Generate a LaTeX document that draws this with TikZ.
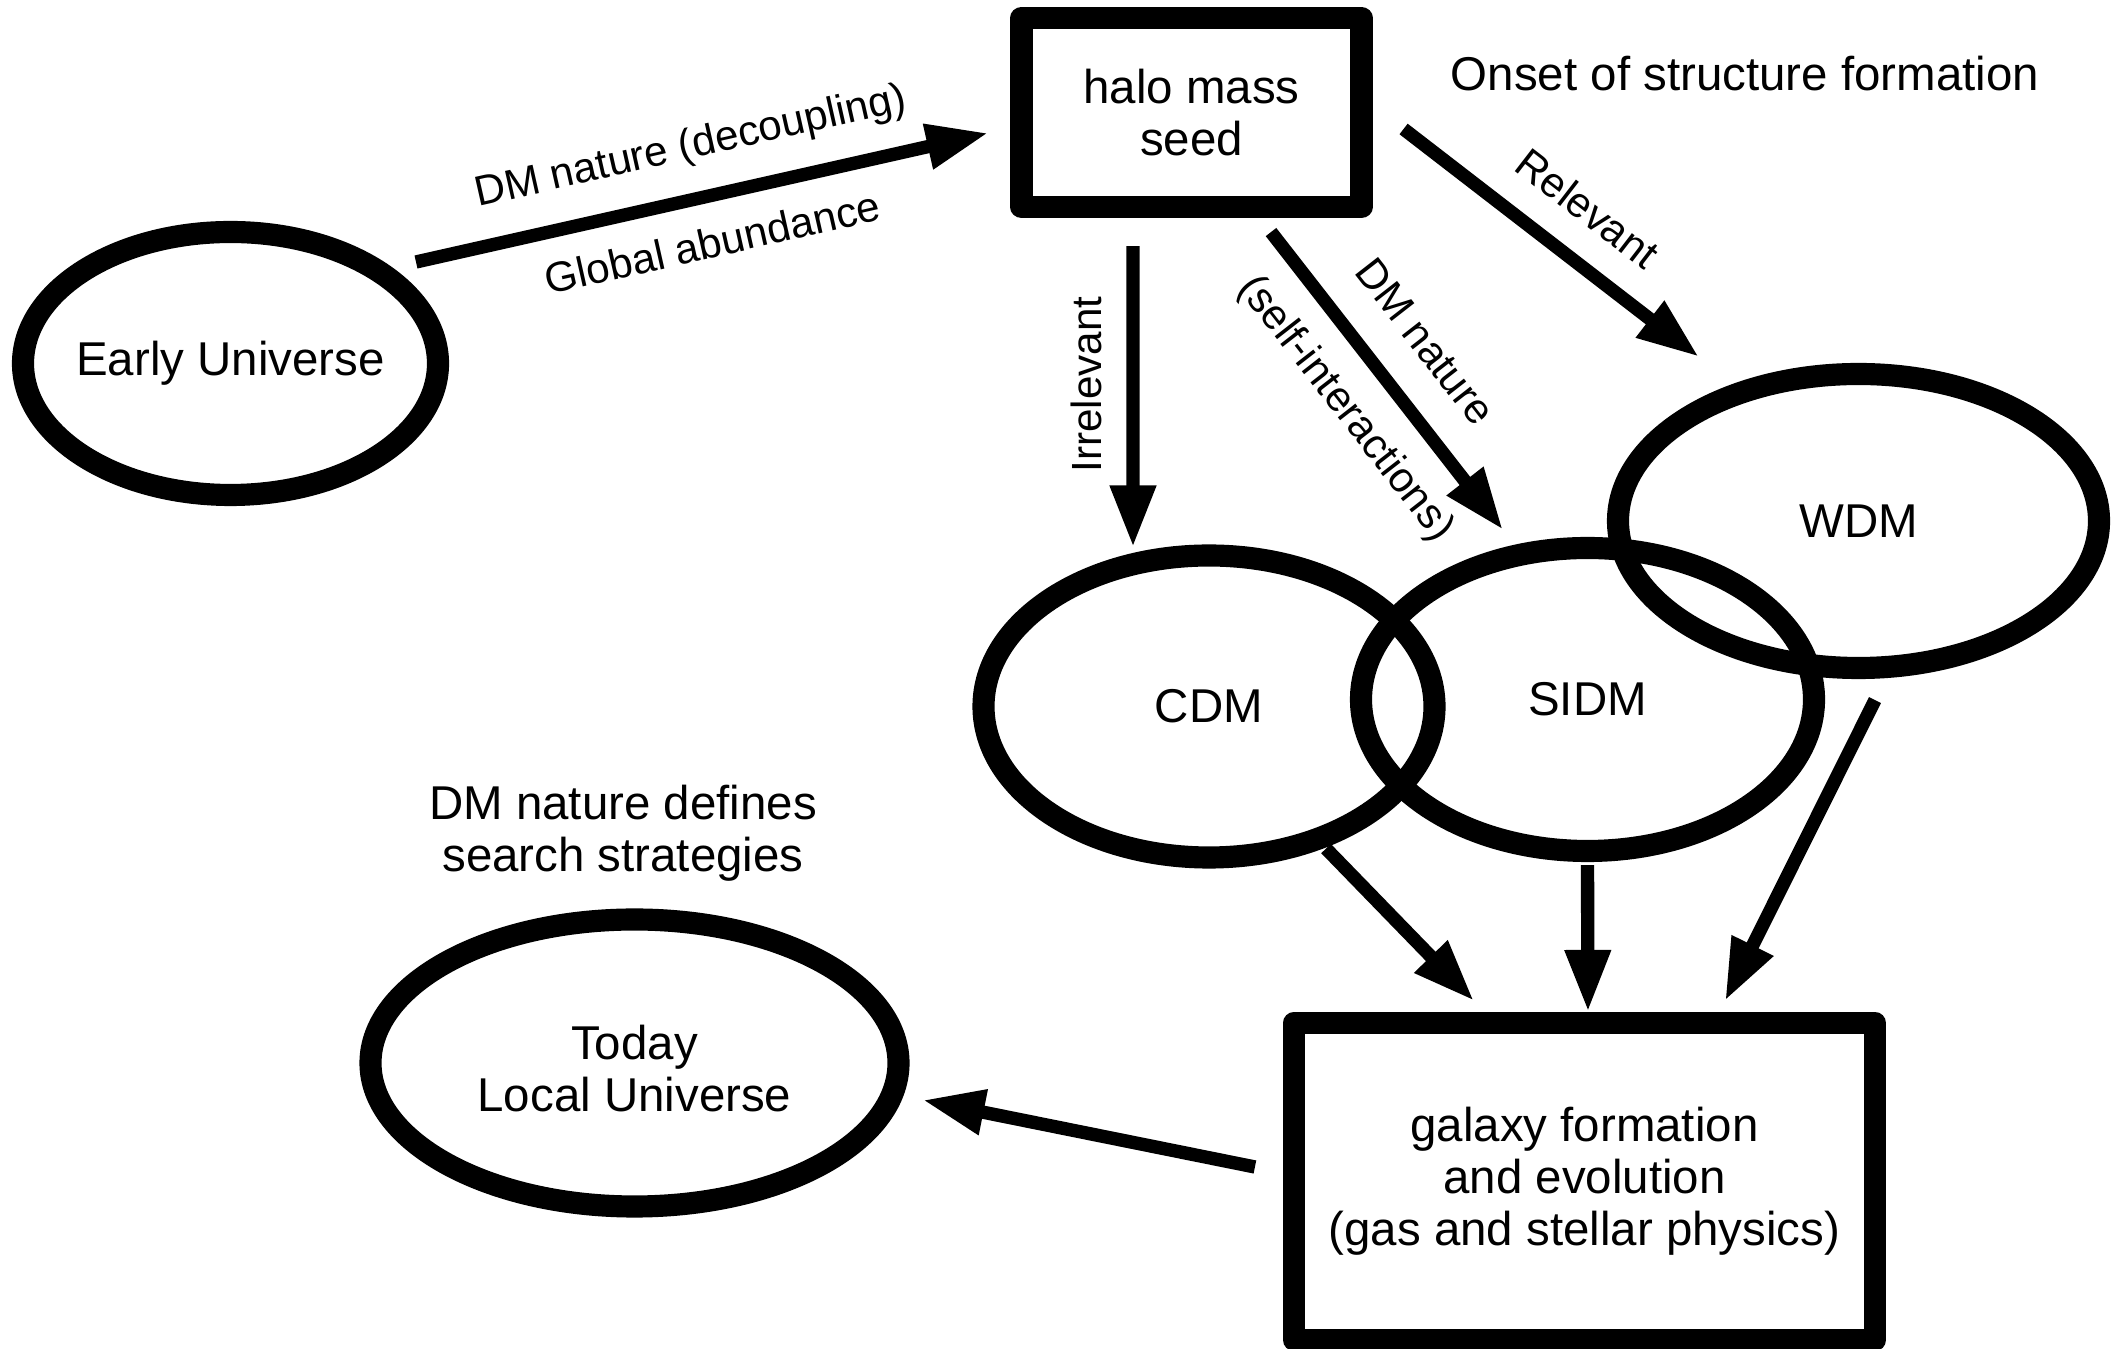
\documentclass[tikz,border=0pt]{standalone}
\usepackage{fontspec}
\setmainfont{Liberation Sans}
\usetikzlibrary{calc,arrows.meta,positioning,shapes.geometric}

\begin{document}
\begin{tikzpicture}
[	font=\fontsize{13.5}{14.8}\selectfont,
	blob/.style = {ellipse, draw, line width=6.3pt, inner sep=0pt},
	panel/.style = {rectangle, draw, line width=6.3pt, line join=round, align=center},
	txt/.style = {align=center, inner sep=0pt},
	arr/.style = {line width=3.8pt, -{Triangle[length=0.62cm, width=0.43cm]}},
	lbl/.style = {font=\fontsize{12}{14}\selectfont, inner sep=6.5pt, text height=9pt, text depth=3pt}
]
\useasboundingbox (0,0) rectangle (21.18,-13.49);

\node[blob, minimum width=4.15cm, minimum height=2.63cm, label={center:Early Universe}] (eu) at (2.305,-3.635) {};
\node[panel, minimum width=3.40cm, minimum height=1.89cm] (halo) at (11.915,-1.125) {halo mass\\seed};
\node[txt, anchor=base] (onset) at (17.45,-0.91) {Onset of structure formation};

\node[blob, minimum width=4.51cm, minimum height=3.02cm, label={center:CDM}] (cdm) at (12.09,-7.065) {};
\node[blob, minimum width=4.53cm, minimum height=3.03cm, label={center:SIDM}] (sidm) at (15.875,-6.995) {};
\node[blob, minimum width=4.81cm, minimum height=2.94cm, label={center:WDM}] (wdm) at (18.585,-5.21) {};

\node[panel, minimum width=5.81cm, minimum height=3.17cm] (gal) at (15.845,-11.815) {galaxy formation\\and evolution\\(gas and stellar physics)};
\node[blob, minimum width=5.28cm, minimum height=2.87cm, label={[align=center, yshift=-0.06cm]center:Today\\Local Universe}] (today) at (6.345,-10.63) {};
\node[txt, above=0.26 of today, xshift=-0.115cm] (search) {DM nature defines\\search strategies};

% early universe to the seed
\draw[arr] ($(eu)+(1.855,1.015)$) -- ($(halo.west)+(-0.22,-0.205)$)
	node[lbl, midway, sloped, above] {DM nature (decoupling)}
	node[lbl, midway, sloped, below] {Global abundance};

% seed to the three models
\draw[arr] ($(halo.south)+(-0.585,-0.28)$) -- ($(cdm.north)+(-0.76,-0.03)$)
	node[lbl, pos=0.46, rotate=90, anchor=south, inner sep=4pt] {Irrelevant};
\draw[arr] ($(halo.south)+(0.795,-0.14)$) -- ($(sidm.north)+(-0.845,0.07)$)
	node[lbl, pos=0.48, sloped, above] {DM nature}
	node[lbl, pos=0.49, sloped, below] {(self-interactions)};
\draw[arr] ($(halo.east)+(0.31,-0.165)$) -- ($(wdm.north)+(-1.595,0.06)$)
	node[lbl, pos=0.52, sloped, above, inner sep=5pt] {Relevant};

% models to galaxy formation
\draw[arr] ($(cdm.south)+(1.17,0.20)$) -- ($(gal.north)+(-1.105,0.11)$);
\draw[arr] ($(sidm.south)+(0,-0.03)$) -- ($(gal.north)+(0.035,0)$);
\draw[arr] ($(wdm.south)+(0.165,-0.21)$) -- ($(gal.north)+(1.405,0.11)$);

\draw[arr] ($(gal.west)+(-0.28,0.145)$) -- ($(today.east)+(0.13,-0.37)$);

\end{tikzpicture}
\end{document}
